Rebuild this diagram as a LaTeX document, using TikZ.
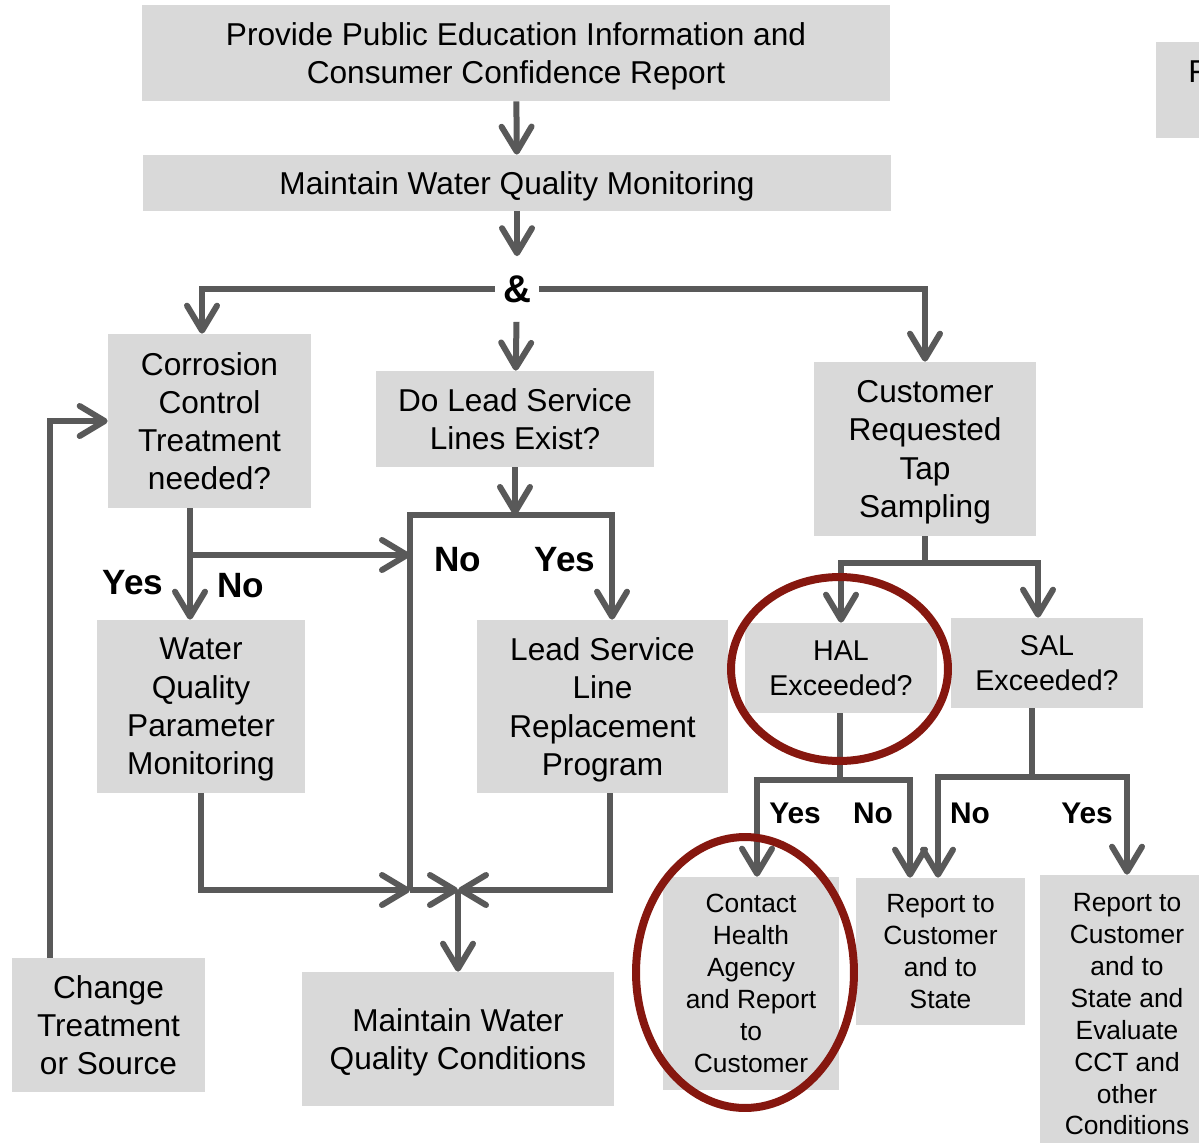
\documentclass[tikz,border=0pt]{standalone}
\usepackage{fontspec}
\setmainfont{Liberation Sans}
\usetikzlibrary{arrows.meta, shapes.geometric, calc}
\definecolor{boxgray}{RGB}{217,217,217}
\definecolor{linegray}{RGB}{89,89,89}
\definecolor{ringred}{RGB}{134,23,15}
\tikzset{
  card/.style  ={fill=boxgray, inner sep=0pt, align=center, text depth=0pt,
                 font=\fontsize{18}{21.8}\selectfont},
  cardmd/.style={card, font=\fontsize{16.3}{20}\selectfont},
  cardsm/.style={card, font=\fontsize{15}{18.2}\selectfont},
  flow/.style  ={draw=linegray, line width=0.12cm,
                 -{Straight Barb[length=0.5cm, width=0.6cm, round]}},
  link/.style  ={draw=linegray, line width=0.12cm},
  ans/.style   ={font=\fontsize{20}{24}\selectfont\bfseries, inner sep=0pt},
  anssm/.style ={font=\fontsize{17}{20}\selectfont\bfseries, inner sep=0pt},
  ring/.style  ={draw=ringred, ellipse, line width=0.16cm, inner sep=0pt},
}

\begin{document}
\begin{tikzpicture}[x=0.02cm, y=-0.02cm]
\useasboundingbox (0,0) rectangle (1199,1142);

% --- top of the chart ---
\node[card, minimum width=14.96cm, minimum height=1.92cm] (pe) at (516,53)
     {Provide Public Education Information and\\Consumer Confidence Report};
\node[card, minimum width=14.96cm, minimum height=1.12cm] (mon) at (517,183)
     {Maintain Water Quality Monitoring};
\node[font=\fontsize{22}{26}\selectfont\bfseries, inner xsep=0.16cm,
      inner ysep=0pt, minimum height=1.3cm] (amp) at (517,289) {\&};

% partly shown box at the right edge
\node[card, anchor=north west, minimum width=2.2cm, minimum height=1.92cm,
      text width=0.92cm, align=left, text depth={}] (pf) at (1156,42) {F\\\mbox{}};

% --- three branches ---
\node[card, minimum width=4.06cm, minimum height=3.48cm] (cct) at (209.5,421)
     {Corrosion\\Control\\Treatment\\needed?};
\node[card, minimum width=5.56cm, minimum height=1.92cm] (lsl) at (515,419)
     {Do Lead Service\\Lines Exist?};
\node[card, minimum width=4.44cm, minimum height=3.48cm] (tap) at (925,449)
     {Customer\\Requested\\Tap\\Sampling};

\node[card, minimum width=4.16cm, minimum height=3.46cm] (wqp) at (201,706.5)
     {Water\\Quality\\Parameter\\Monitoring};
\node[card, minimum width=5.02cm, minimum height=3.46cm] (lslr) at (602.5,706.5)
     {Lead Service\\Line\\Replacement\\Program};
\node[cardmd, minimum width=3.84cm, minimum height=1.8cm] (hal) at (841,668)
     {HAL\\Exceeded?};
\node[cardmd, minimum width=3.84cm, minimum height=1.8cm] (sal) at (1047,663)
     {SAL\\Exceeded?};

% --- bottom row ---
\node[card, minimum width=3.86cm, minimum height=2.68cm] (chg) at (108.5,1025)
     {Change\\Treatment\\or Source};
\node[card, minimum width=6.24cm, minimum height=2.68cm] (mwq) at (458,1039)
     {Maintain Water\\Quality Conditions};
\node[cardsm, minimum width=3.52cm, minimum height=4.26cm] (cont) at (751,983.5)
     {Contact\\Health\\Agency\\and Report\\to\\Customer};
\node[cardsm, minimum width=3.38cm, minimum height=2.94cm] (rep) at (940.5,951.5)
     {Report to\\Customer\\and to\\State};
\node[cardsm, minimum width=3.48cm, minimum height=5.56cm] (repx) at (1127,1014)
     {Report to\\Customer\\and to\\State and\\Evaluate\\CCT and\\other\\Conditions};

% --- fork points ---
\coordinate (lslfork) at (515,515);
\coordinate (nojoin)  at (410,890);
\coordinate (mwqjoin) at (458,890);
\coordinate (cctfork) at (190,555);
\coordinate (tapfork) at (925,563);
\coordinate (halfork) at (840,780);
\coordinate (salfork) at (1032,777);

% --- connectors ---
\draw[flow] (pe) -- (mon);
\draw[flow] (mon) -- (amp);
\draw[flow] (amp.west) -| ([xshift=-0.15cm]cct.north);
\draw[flow] (amp.east) -| (tap.north);
\draw[flow] (amp) -- (lsl);

\draw[flow] (lsl.south) -- (lslfork);
\draw[flow] (nojoin) |- (lslfork) -| ([xshift=0.19cm]lslr.north);
\draw[flow] (nojoin) -- (mwqjoin);

\draw[link] (cctfork |- cct.south) -- (cctfork);
\draw[flow] (cctfork) -- (cctfork |- wqp.north);
\draw[flow] (cctfork) -- (cctfork -| nojoin);

\draw[flow] (wqp.south) |- (nojoin);
\draw[flow] ([xshift=0.15cm]lslr.south) |- (mwqjoin);
\draw[flow] (mwqjoin) -- (mwq.north);
\draw[flow] ([xshift=-1.17cm]chg.north) |- (cct.west);

\draw[link] (tap.south) -- (tapfork);
\draw[flow] (tapfork) -| (hal.north);
\draw[flow] (tapfork) -| ([xshift=-0.18cm]sal.north);

\draw[link] (halfork |- hal.south) -- (halfork);
\draw[flow] (halfork) -| ([xshift=0.12cm]cont.north);
\draw[flow] (halfork) -| ([xshift=-0.61cm]rep.north);
\draw[link] (salfork |- sal.south) -- (salfork);
\draw[flow] (salfork) -| ([xshift=-0.05cm]rep.north);
\draw[flow] (salfork) -| (repx.north);

% --- answers ---
\node[ans] (cctyes) at (133,583) {Yes};
\node[ans] (cctno)  at (241,586) {No};
\node[ans] (lslno)  at (458,560) {No};
\node[ans] (lslyes) at (565,560) {Yes};
\node[anssm] (halyes) at (795,813) {Yes};
\node[anssm] (halno)  at (873,813) {No};
\node[anssm] (salno)  at (970,813) {No};
\node[anssm] (salyes) at (1087,813) {Yes};

% --- highlight rings ---
\node[ring, minimum width=4.34cm, minimum height=3.68cm] (halring) at (839.5,669) {};
\node[ring, minimum width=4.36cm, minimum height=5.42cm] (contring) at (745,972.5) {};

\end{tikzpicture}
\end{document}
